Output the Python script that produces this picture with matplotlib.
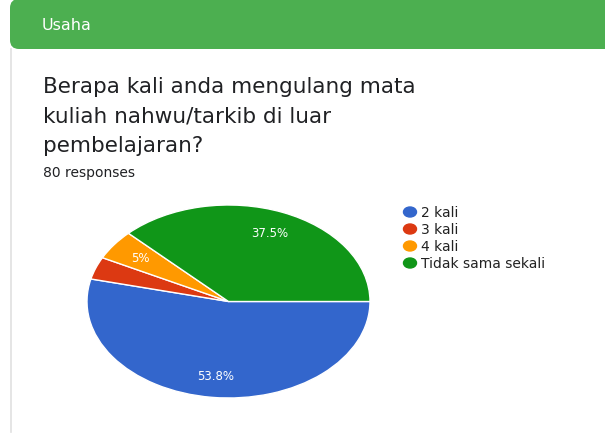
import matplotlib
matplotlib.use('Agg')
import matplotlib.pyplot as plt
from matplotlib.patches import FancyBboxPatch, Ellipse

plt.rcParams['font.family'] = ['DejaVu Sans']

labels = ['2 kali', '3 kali', '4 kali', 'Tidak sama sekali']
counts = [43, 3, 4, 30]
colors = ['#3366cc', '#dc3912', '#ff9900', '#109618']

fig = plt.figure(figsize=(6.05, 4.35), dpi=100)

# card background, drawn in pixel coordinates
bg = fig.add_axes([0, 0, 1, 1])
bg.set_xlim(0, 605)
bg.set_ylim(435, 0)
bg.axis('off')
bg.add_patch(FancyBboxPatch((10, 0), 620, 50, boxstyle='round,pad=0,rounding_size=9',
                            facecolor='#4caf50', edgecolor='none'))
bg.plot([10.5, 10.5], [50, 433], color='#e0e0e0', lw=1.2)
bg.text(42, 25, 'Usaha', color='white', fontsize=11.5, va='center')
bg.text(43, 87, 'Berapa kali anda mengulang mata', fontsize=15.5, va='center', color='#202124')
bg.text(43, 117, 'kuliah nahwu/tarkib di luar', fontsize=15.5, va='center', color='#202124')
bg.text(43, 146, 'pembelajaran?', fontsize=15.5, va='center', color='#202124')
bg.text(43, 173, '80 responses', fontsize=10, va='center', color='#202124')

# legend
for i, (lab, c) in enumerate(zip(labels, colors)):
    y = 213 + i * 17
    bg.add_patch(Ellipse((410, y), 13, 10, color=c))
    bg.text(421, y, lab, fontsize=10, va='center', color='#222222')

# pie (stretched to an ellipse like the screenshot)
ax = fig.add_axes([87 / 605, 36 / 435, 283 / 605, 193 / 435])


def fmt(p):
    if p < 4:
        return ''
    return '%g%%' % round(p, 1)


wedges, texts, autotexts = ax.pie(counts, colors=colors, startangle=0, counterclock=False,
                                  autopct=fmt, pctdistance=0.77,
                                  wedgeprops=dict(edgecolor='white', linewidth=1),
                                  textprops=dict(color='white', fontsize=8.5))
ax.set_xlim(-1, 1)
ax.set_ylim(-1, 1)
ax.set_aspect('auto')
ax.axis('off')

plt.savefig('out.png', dpi=100)
